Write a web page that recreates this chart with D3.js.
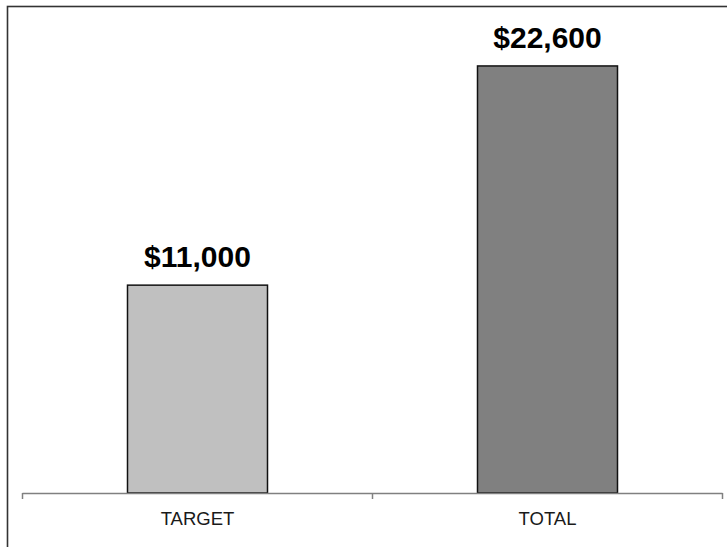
<html lang="en">
<head>
<meta charset="UTF-8">
<title>Target vs Total</title>
<script src="https://d3js.org/d3.v7.min.js"></script>
<style>
  body { margin: 0; background: #fff; font-family: Arial, "Liberation Sans", sans-serif; }
  .value-label { font-size: 30px; font-weight: bold; fill: #000; }
  .cat-label { font-size: 18.5px; fill: #1a1a1a; }
</style>
</head>
<body>
<svg width="727" height="547"></svg>
<script>
const categories = ["TARGET", "TOTAL"];
const values = [11000, 22600];
const barColors = ["#c0c0c0", "#808080"];
const valueLabels = ["$11,000", "$22,600"];

const svg = d3.select("svg");

// outer frame, only top and left edges fall inside the picture
svg.append("rect")
    .attr("x", 7.5).attr("y", 6.5)
    .attr("width", 800).attr("height", 600)
    .attr("fill", "none")
    .attr("stroke", "#333")
    .attr("stroke-width", 1.6);

const x = d3.scaleBand()
    .domain(categories)
    .range([22.5, 722.5])
    .padding(0);

const y = d3.scaleLinear()
    .domain([0, 24000])
    .range([493, 39.5]);

const barW = x.bandwidth() * 0.4;

svg.selectAll("rect.bar")
    .data(values)
    .enter().append("rect")
    .attr("class", "bar")
    .attr("x", (d, i) => x(categories[i]) + (x.bandwidth() - barW) / 2)
    .attr("y", d => y(d))
    .attr("width", barW)
    .attr("height", d => y(0) - y(d))
    .attr("fill", (d, i) => barColors[i])
    .attr("stroke", "#111")
    .attr("stroke-width", 1.5);

svg.selectAll("text.value-label")
    .data(values)
    .enter().append("text")
    .attr("class", "value-label")
    .attr("x", (d, i) => x(categories[i]) + x.bandwidth() / 2)
    .attr("y", d => y(d) - 18)
    .attr("text-anchor", "middle")
    .text((d, i) => valueLabels[i]);

// category axis: line with ticks at band edges
const axis = svg.append("g");
axis.append("line")
    .attr("x1", 22.5).attr("x2", 722.5)
    .attr("y1", y(0) + 0.5).attr("y2", y(0) + 0.5)
    .attr("stroke", "#808080")
    .attr("stroke-width", 1.5);

const edges = categories.map(c => x(c)).concat([x.range()[1]]);
axis.selectAll("line.tick")
    .data(edges)
    .enter().append("line")
    .attr("class", "tick")
    .attr("x1", d => d).attr("x2", d => d)
    .attr("y1", y(0)).attr("y2", y(0) + 6)
    .attr("stroke", "#808080")
    .attr("stroke-width", 1.5);

axis.selectAll("text.cat-label")
    .data(categories)
    .enter().append("text")
    .attr("class", "cat-label")
    .attr("x", d => x(d) + x.bandwidth() / 2)
    .attr("y", 525)
    .attr("text-anchor", "middle")
    .text(d => d);
</script>
</body>
</html>
